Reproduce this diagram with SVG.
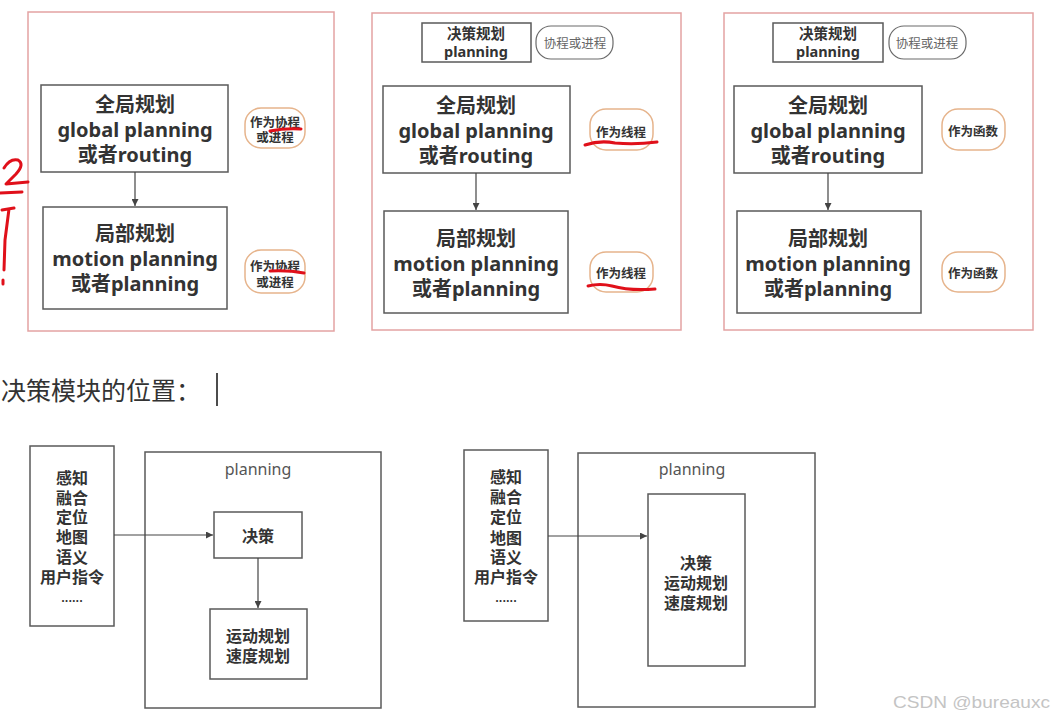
<svg xmlns="http://www.w3.org/2000/svg" width="1054" height="720" viewBox="0 0 1054 720">
<defs>
<marker id="arr" viewBox="0 0 10 10" refX="10" refY="5" markerWidth="7" markerHeight="7" markerUnits="userSpaceOnUse" orient="auto">
<path d="M0,0 L10,5 L0,10 z" fill="#444"/>
</marker>
<style>
.panel{fill:none;stroke:#e3a3a3;stroke-width:1.5}
.box{fill:#fff;stroke:#5a5a5a;stroke-width:1.5}
.pill{fill:#fff;stroke:#e6b48c;stroke-width:1.5}
.gpill{fill:#fff;stroke:#6a6a6a;stroke-width:1.2}
.big{font-family:"Noto Sans","Noto Sans CJK SC",sans-serif;font-weight:bold;font-size:20px;fill:#333;text-anchor:middle;dominant-baseline:central}
.sm{font-family:"Noto Sans CJK SC",sans-serif;font-weight:bold;font-size:12.5px;fill:#333;text-anchor:middle;dominant-baseline:central}
.gsm{font-family:"Noto Sans CJK SC",sans-serif;font-weight:normal;font-size:12.5px;fill:#666;text-anchor:middle;dominant-baseline:central}
.mid{font-family:"Noto Sans","Noto Sans CJK SC",sans-serif;font-weight:bold;font-size:14.5px;fill:#333;text-anchor:middle;dominant-baseline:central}
.bt{font-family:"Noto Sans CJK SC",sans-serif;font-weight:bold;font-size:16px;fill:#333;text-anchor:middle;dominant-baseline:central}
.lbl{font-family:"Noto Sans","Noto Sans CJK SC",sans-serif;font-weight:normal;font-size:16px;fill:#555;text-anchor:middle;dominant-baseline:central}
.conn{stroke:#444;stroke-width:1.2;fill:none}
.red{stroke:#e0101a;stroke-width:3;fill:none;stroke-linecap:round;stroke-linejoin:round}
</style>
</defs>
<rect width="1054" height="720" fill="#fff"/>

<!-- Panel 1 -->
<g id="panel1">
<rect class="panel" x="28" y="12" width="306" height="319"/>
</g>
<g id="p1-global">
<rect class="box" x="41" y="85" width="187" height="87"/>
<text class="big" x="135" y="104"><tspan x="135">全局规划</tspan><tspan x="135" dy="25">global planning</tspan><tspan x="135" dy="25">或者routing</tspan></text>
</g>
<g id="p1-local">
<rect class="box" x="43" y="207" width="184" height="102"/>
<text class="big" x="135" y="233"><tspan x="135">局部规划</tspan><tspan x="135" dy="25">motion planning</tspan><tspan x="135" dy="25">或者planning</tspan></text>
</g>
<g id="p1-pill1">
<rect class="pill" x="245" y="108" width="60" height="40" rx="16"/>
<text class="sm" x="275" y="121"><tspan x="275">作为协程</tspan><tspan x="275" dy="15">或进程</tspan></text>
</g>
<g id="p1-pill2">
<rect class="pill" x="245" y="250" width="60" height="43" rx="16"/>
<text class="sm" x="275" y="265"><tspan x="275">作为协程</tspan><tspan x="275" dy="16">或进程</tspan></text>
</g>

<!-- Panel 2 -->
<g id="panel2">
<rect class="panel" x="372" y="13" width="309" height="317"/>
</g>
<g id="p2-planning">
<rect class="box" x="422" y="23" width="109" height="39"/>
<text class="mid" x="476" y="33"><tspan x="476">决策规划</tspan><tspan x="476" dy="18">planning</tspan></text>
</g>
<g id="p2-pill0">
<rect class="gpill" x="536" y="26" width="77" height="33" rx="15"/>
<text class="gsm" x="575" y="42.5">协程或进程</text>
</g>
<g id="p2-global">
<rect class="box" x="383" y="86" width="187" height="87"/>
<text class="big" x="476" y="105"><tspan x="476">全局规划</tspan><tspan x="476" dy="25">global planning</tspan><tspan x="476" dy="25">或者routing</tspan></text>
</g>
<g id="p2-local">
<rect class="box" x="384" y="211" width="184" height="102"/>
<text class="big" x="476" y="238"><tspan x="476">局部规划</tspan><tspan x="476" dy="25">motion planning</tspan><tspan x="476" dy="25">或者planning</tspan></text>
</g>
<g id="p2-pill1">
<rect class="pill" x="590" y="109" width="63" height="41" rx="16"/>
<text class="sm" x="621" y="131">作为线程</text>
</g>
<g id="p2-pill2">
<rect class="pill" x="590" y="252" width="63" height="40" rx="16"/>
<text class="sm" x="621" y="272">作为线程</text>
</g>

<!-- Panel 3 -->
<g id="panel3">
<rect class="panel" x="724" y="13" width="309" height="317"/>
</g>
<g id="p3-planning">
<rect class="box" x="773" y="23" width="110" height="39"/>
<text class="mid" x="828" y="33"><tspan x="828">决策规划</tspan><tspan x="828" dy="18">planning</tspan></text>
</g>
<g id="p3-pill0">
<rect class="gpill" x="889" y="26" width="77" height="33" rx="15"/>
<text class="gsm" x="927" y="42.5">协程或进程</text>
</g>
<g id="p3-global">
<rect class="box" x="734" y="86" width="188" height="87"/>
<text class="big" x="828" y="105"><tspan x="828">全局规划</tspan><tspan x="828" dy="25">global planning</tspan><tspan x="828" dy="25">或者routing</tspan></text>
</g>
<g id="p3-local">
<rect class="box" x="737" y="211" width="184" height="102"/>
<text class="big" x="828" y="238"><tspan x="828">局部规划</tspan><tspan x="828" dy="25">motion planning</tspan><tspan x="828" dy="25">或者planning</tspan></text>
</g>
<g id="p3-pill1">
<rect class="pill" x="942" y="109" width="63" height="41" rx="16"/>
<text class="sm" x="973" y="130">作为函数</text>
</g>
<g id="p3-pill2">
<rect class="pill" x="942" y="252" width="63" height="40" rx="16"/>
<text class="sm" x="973" y="272">作为函数</text>
</g>

<!-- Heading -->
<g id="heading">
<text x="1" y="400" font-family="Liberation Serif, 'Noto Sans CJK SC', serif" font-size="25" fill="#333">决策模块的位置：</text>
<line x1="217" y1="373" x2="217" y2="406" stroke="#111" stroke-width="1.5"/>
</g>

<!-- Bottom left diagram -->
<g id="b1-inputs">
<rect class="box" x="30" y="446" width="84" height="180"/>
<text class="bt" x="72" y="477"><tspan x="72">感知</tspan><tspan x="72" dy="20">融合</tspan><tspan x="72" dy="19">定位</tspan><tspan x="72" dy="20">地图</tspan><tspan x="72" dy="20">语义</tspan><tspan x="72" dy="20">用户指令</tspan><tspan x="72" dy="21" font-size="11">......</tspan></text>
</g>
<g id="b1-planning">
<rect class="box" x="145" y="452" width="236" height="256"/>
<text class="lbl" x="258" y="469">planning</text>
</g>
<g id="b1-decision">
<rect class="box" x="214" y="512" width="88" height="46"/>
<text class="bt" x="258" y="535">决策</text>
</g>
<g id="b1-motion">
<rect class="box" x="210" y="609" width="97" height="70"/>
<text class="bt" x="258" y="635"><tspan x="258">运动规划</tspan><tspan x="258" dy="20">速度规划</tspan></text>
</g>

<!-- Bottom right diagram -->
<g id="b2-inputs">
<rect class="box" x="464" y="450" width="84" height="171"/>
<text class="bt" x="506" y="476"><tspan x="506">感知</tspan><tspan x="506" dy="20">融合</tspan><tspan x="506" dy="20">定位</tspan><tspan x="506" dy="21">地图</tspan><tspan x="506" dy="19">语义</tspan><tspan x="506" dy="20">用户指令</tspan><tspan x="506" dy="21" font-size="11">......</tspan></text>
</g>
<g id="b2-planning">
<rect class="box" x="578" y="453" width="237" height="254"/>
<text class="lbl" x="692" y="469">planning</text>
</g>
<g id="b2-decision">
<rect class="box" x="648" y="494" width="97" height="172"/>
<text class="bt" x="696" y="562"><tspan x="696">决策</tspan><tspan x="696" dy="20">运动规划</tspan><tspan x="696" dy="20">速度规划</tspan></text>
</g>

<!-- Connectors -->
<g id="connectors">
<line class="conn" x1="135" y1="172" x2="135" y2="206" marker-end="url(#arr)"/>
<line class="conn" x1="476" y1="173" x2="476" y2="210" marker-end="url(#arr)"/>
<line class="conn" x1="828" y1="173" x2="828" y2="210" marker-end="url(#arr)"/>
<line class="conn" x1="114" y1="535" x2="213" y2="535" marker-end="url(#arr)"/>
<line class="conn" x1="258" y1="558" x2="258" y2="608" marker-end="url(#arr)"/>
<line class="conn" x1="548" y1="536" x2="647" y2="536" marker-end="url(#arr)"/>
</g>

<!-- Red hand-drawn marks -->
<g id="red-marks">
<path class="red" d="M270,131 Q285,128 301,129"/>
<path class="red" d="M270,271 Q288,270 304,273"/>
<path class="red" d="M585,145 Q600,140 615,143 Q635,145 657,142"/>
<path class="red" d="M588,286 Q600,283 612,286 Q630,291 655,289"/>
<path class="red" d="M4,168 Q10,158 18,160 Q25,164 16,174 L6,184 L28,182"/>
<path class="red" d="M0,193 L22,192"/>
<path class="red" d="M2,210 L14,208 M9,209 L5,240 L4,270 M3,280 L3,284"/>
</g>

<!-- Watermark -->
<g id="watermark">
<text x="893" y="708" font-family="Liberation Sans, Arial, sans-serif" font-size="17" fill="#c4c4c4" textLength="157" lengthAdjust="spacingAndGlyphs">CSDN @bureauxc</text>
</g>
</svg>
